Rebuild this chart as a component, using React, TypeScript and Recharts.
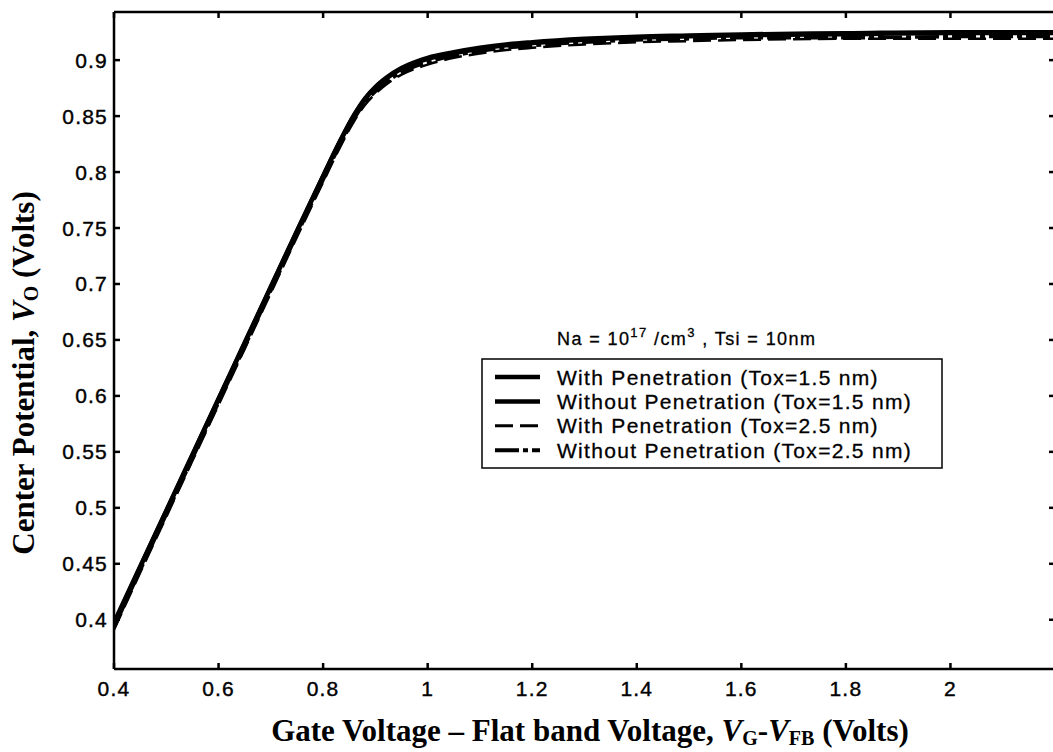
import React from 'react';
import { LineChart, Line, XAxis, YAxis, Legend } from 'recharts';

const xValues = [0.4, 0.45, 0.5, 0.55, 0.6, 0.65, 0.7, 0.75, 0.8, 0.83, 0.86, 0.88, 0.9, 0.92, 0.95, 0.98, 1.0, 1.05, 1.1, 1.15, 1.2, 1.3, 1.4, 1.5, 1.6, 1.8, 2.0, 2.2];
const withPen15 = [0.396, 0.447, 0.497, 0.547, 0.597, 0.647, 0.697, 0.747, 0.796, 0.825, 0.851, 0.865, 0.876, 0.884, 0.893, 0.899, 0.902, 0.907, 0.911, 0.914, 0.916, 0.919, 0.921, 0.922, 0.923, 0.924, 0.925, 0.925];
const withoutPen15 = [0.398, 0.448, 0.498, 0.548, 0.598, 0.648, 0.698, 0.748, 0.797, 0.826, 0.852, 0.866, 0.876, 0.883, 0.892, 0.898, 0.901, 0.906, 0.91, 0.913, 0.915, 0.918, 0.92, 0.921, 0.922, 0.923, 0.924, 0.924];
const withPen25 = [0.391, 0.442, 0.492, 0.542, 0.592, 0.642, 0.692, 0.742, 0.791, 0.82, 0.846, 0.86, 0.87, 0.878, 0.887, 0.893, 0.896, 0.902, 0.906, 0.909, 0.911, 0.914, 0.916, 0.917, 0.918, 0.919, 0.919, 0.919];
const withoutPen25 = [0.393, 0.444, 0.494, 0.544, 0.594, 0.644, 0.694, 0.744, 0.793, 0.822, 0.848, 0.862, 0.872, 0.88, 0.889, 0.895, 0.898, 0.904, 0.908, 0.911, 0.913, 0.916, 0.918, 0.919, 0.92, 0.92, 0.921, 0.921];

const xTicks = [0.4, 0.6, 0.8, 1.0, 1.2, 1.4, 1.6, 1.8, 2.0];
const yTicks = [0.4, 0.45, 0.5, 0.55, 0.6, 0.65, 0.7, 0.75, 0.8, 0.85, 0.9];
const xDomain = [0.4, 2.2];
const yDomain = [0.356, 0.943];

const seriesNames = [
  'With Penetration (Tox=1.5 nm)',
  'Without Penetration (Tox=1.5 nm)',
  'With Penetration (Tox=2.5 nm)',
  'Without Penetration (Tox=2.5 nm)',
];
const seriesKeys = ['withPen15', 'withoutPen15', 'withPen25', 'withoutPen25'];
const seriesValues = [withPen15, withoutPen15, withPen25, withoutPen25];

// the second series sits on the mirrored (top/right) axes, which share the same domains
const seriesAxes = [
  { x: 'bottom', y: 'left' },
  { x: 'top', y: 'right' },
  { x: 'bottom', y: 'left' },
  { x: 'bottom', y: 'left' },
];

const seriesStyles = [
  { width: 4.5, legendWidth: 4.5, dash: undefined as string | undefined },
  { width: 4, legendWidth: 4.5, dash: undefined as string | undefined },
  { width: 2.5, legendWidth: 3, dash: '18 7' },
  { width: 3.5, legendWidth: 4, dash: '24 4 5 4' },
];

const data = xValues.map((x, i) => {
  const row: Record<string, number> = { x };
  seriesKeys.forEach((k, j) => {
    row[k] = seriesValues[j][i];
  });
  return row;
});

const fmt = (v: number) => String(+v.toFixed(2));
const TICK_FONT = '"Liberation Sans", Arial, Helvetica, sans-serif';
const TITLE_FONT = '"Liberation Serif", "Times New Roman", Times, serif';

const tickText = {
  fontFamily: TICK_FONT,
  fontSize: 21,
  letterSpacing: 1.2,
  fill: '#000',
  stroke: '#000',
  strokeWidth: 0.4,
};

const LeftTick = (props: any) => {
  const { x, y, payload } = props;
  return (
    <g>
      <line x1={x} x2={x + 6} y1={y} y2={y} stroke="#000" strokeWidth={2.5} />
      <text x={x - 6} y={y + 7.5} textAnchor="end" {...tickText}>
        {fmt(payload.value)}
      </text>
    </g>
  );
};

const RightTick = (props: any) => {
  const { x, y } = props;
  return <line x1={x} x2={x - 6} y1={y} y2={y} stroke="#000" strokeWidth={2.5} />;
};

const BottomTick = (props: any) => {
  const { x, y, payload } = props;
  return (
    <g>
      <line x1={x} x2={x} y1={y} y2={y - 6} stroke="#000" strokeWidth={2.5} />
      <text x={x} y={y + 27} textAnchor="middle" {...tickText}>
        {fmt(payload.value)}
      </text>
    </g>
  );
};

const TopTick = (props: any) => {
  const { x, y } = props;
  return <line x1={x} x2={x} y1={y} y2={y + 6} stroke="#000" strokeWidth={2.5} />;
};

const legendText = {
  fontFamily: TICK_FONT,
  fill: '#000',
  stroke: '#000',
  strokeWidth: 0.3,
};

const renderLegend = () => {
  const rowY = [57, 81.4, 105.8, 130.2];
  return (
    <svg width={480} height={160} style={{ display: 'block', overflow: 'visible' }}>
      <text x={87} y={25} fontSize={18} letterSpacing={1.4} {...legendText}>
        <tspan>Na = 10</tspan>
        <tspan fontSize={13} dy={-8}>17</tspan>
        <tspan dy={8}> /cm</tspan>
        <tspan fontSize={13} dy={-8}>3</tspan>
        <tspan dy={8}> , Tsi = 10nm</tspan>
      </text>
      <rect x={12} y={39} width={460} height={109} fill="#fff" stroke="#000" strokeWidth={1.5} />
      {seriesNames.map((name, i) => (
        <g key={name}>
          <line
            x1={25}
            x2={70}
            y1={rowY[i]}
            y2={rowY[i]}
            stroke="#000"
            strokeWidth={seriesStyles[i].legendWidth}
            strokeDasharray={seriesStyles[i].dash}
          />
          <text x={87} y={rowY[i] + 7.5} fontSize={21} letterSpacing={1.3} {...legendText}>
            {name}
          </text>
        </g>
      ))}
    </svg>
  );
};

const XTitle = () => (
  <text x={590} y={741} textAnchor="middle" fontFamily={TITLE_FONT} fontWeight="bold" fontSize={31} fill="#000">
    <tspan>Gate Voltage – Flat band Voltage, </tspan>
    <tspan fontStyle="italic">V</tspan>
    <tspan fontSize={20} dy={4}>G</tspan>
    <tspan dy={-4}>-</tspan>
    <tspan fontStyle="italic">V</tspan>
    <tspan fontSize={20} dy={4}>FB</tspan>
    <tspan dy={-4}> (Volts)</tspan>
  </text>
);

const YTitle = () => (
  <text
    transform="translate(34, 373) rotate(-90)"
    textAnchor="middle"
    fontFamily={TITLE_FONT}
    fontWeight="bold"
    fontSize={31}
    fill="#000"
  >
    <tspan>Center Potential, </tspan>
    <tspan fontStyle="italic">V</tspan>
    <tspan fontSize={20} dy={4}>O</tspan>
    <tspan dy={-4}> (Volts)</tspan>
  </text>
);

const axisLineStyle = { stroke: '#000', strokeWidth: 2.5 };

export default function App() {
  return (
    <div style={{ position: 'absolute', left: 0, top: 0, width: 1053, height: 752, overflow: 'hidden', background: '#fff' }}>
      <LineChart width={1075} height={752} data={data} margin={{ top: 11, right: 19, bottom: 43, left: 0 }}>
        <XAxis
          xAxisId="bottom"
          dataKey="x"
          type="number"
          domain={xDomain}
          ticks={xTicks}
          allowDataOverflow
          height={40}
          tickSize={0}
          tickMargin={0}
          tickLine={false}
          axisLine={axisLineStyle}
          tick={<BottomTick />}
          interval={0}
        />
        <XAxis
          xAxisId="top"
          orientation="top"
          dataKey="x"
          type="number"
          domain={xDomain}
          ticks={xTicks}
          allowDataOverflow
          height={1}
          tickSize={0}
          tickMargin={0}
          tickLine={false}
          axisLine={axisLineStyle}
          tick={<TopTick />}
          interval={0}
        />
        <YAxis
          yAxisId="left"
          type="number"
          domain={yDomain}
          ticks={yTicks}
          allowDataOverflow
          width={114}
          tickSize={0}
          tickMargin={0}
          tickLine={false}
          axisLine={axisLineStyle}
          tick={<LeftTick />}
          interval={0}
        />
        <YAxis
          yAxisId="right"
          orientation="right"
          type="number"
          domain={yDomain}
          ticks={yTicks}
          allowDataOverflow
          width={1}
          tickSize={0}
          tickMargin={0}
          tickLine={false}
          axisLine={axisLineStyle}
          tick={<RightTick />}
          interval={0}
        />
        {seriesKeys.map((k, i) => (
          <Line
            key={k}
            xAxisId={seriesAxes[i].x}
            yAxisId={seriesAxes[i].y}
            dataKey={k}
            name={seriesNames[i]}
            type="monotone"
            stroke="#000"
            strokeWidth={seriesStyles[i].width}
            strokeDasharray={seriesStyles[i].dash}
            dot={false}
            activeDot={false}
            isAnimationActive={false}
          />
        ))}
        <Legend
          layout="vertical"
          align="center"
          verticalAlign="middle"
          content={renderLegend}
          wrapperStyle={{ position: 'absolute', left: 470, top: 320, width: 480, height: 160 }}
        />
        <XTitle />
        <YTitle />
      </LineChart>
    </div>
  );
}
